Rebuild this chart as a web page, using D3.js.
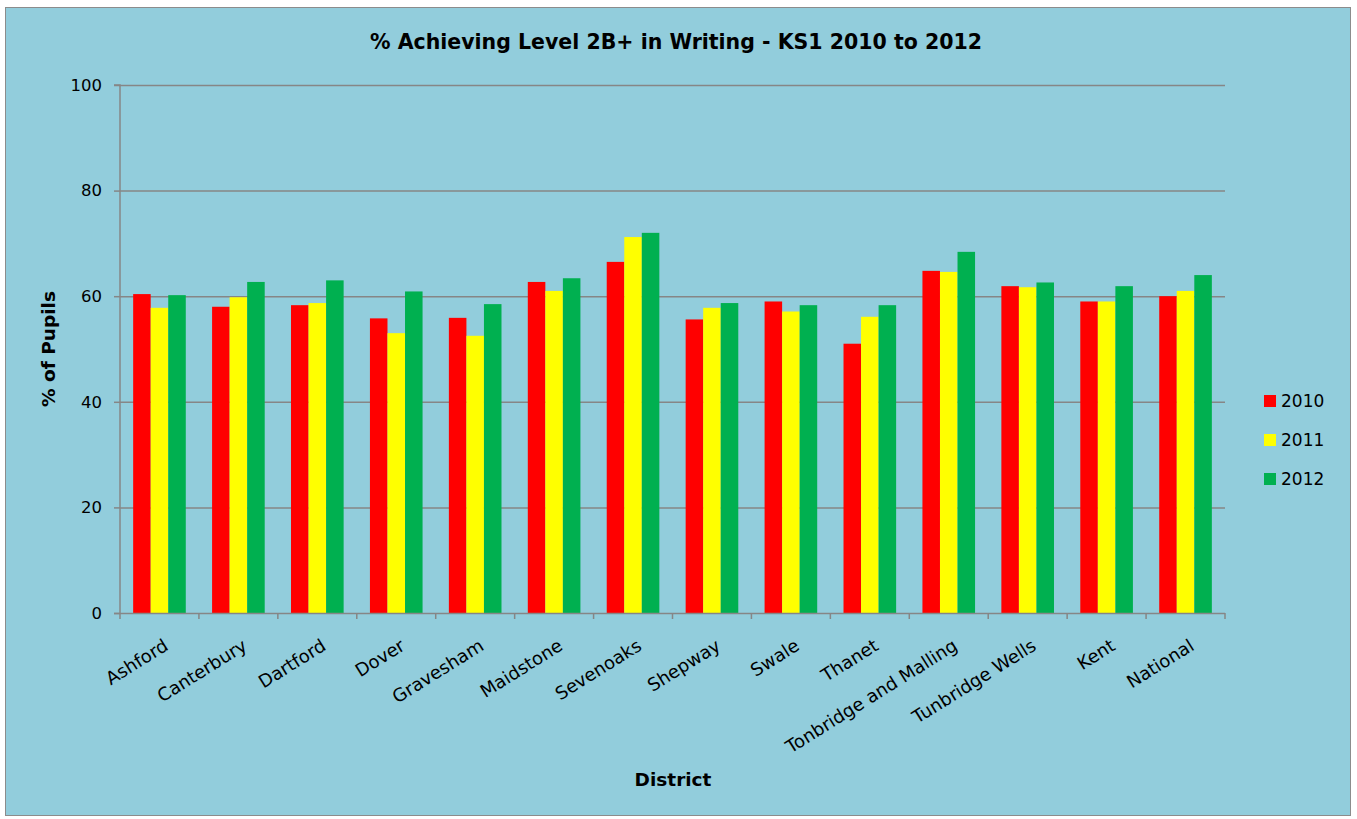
<!DOCTYPE html>
<html><head><meta charset="utf-8">
<script src="https://cdn.jsdelivr.net/npm/d3@7"></script>
<style>body{margin:0;background:#fff;} svg{display:block;}</style>
</head><body>
<script>
const categories = ["Ashford","Canterbury","Dartford","Dover","Gravesham","Maidstone","Sevenoaks","Shepway","Swale","Thanet","Tonbridge and Malling","Tunbridge Wells","Kent","National"];
const seriesNames = ["2010","2011","2012"];
const values2010 = [60.4,58.0,58.3,55.8,55.9,62.7,66.5,55.6,59.0,51.0,64.8,61.9,59.0,60.0];
const values2011 = [57.8,59.8,58.7,53.0,52.5,61.0,71.2,57.8,57.1,56.1,64.6,61.7,59.0,61.0];
const values2012 = [60.2,62.7,63.0,60.9,58.5,63.4,72.0,58.7,58.3,58.3,68.4,62.6,61.9,64.0];
const colors = ["#ff0000","#ffff00","#00b050"];
const yTicks = [0,20,40,60,80,100];
const seriesValues = [values2010, values2011, values2012];

const W = 1357, H = 819;
const font = "DejaVu Sans, Verdana, sans-serif";
const svg = d3.select("body").append("svg").attr("width", W).attr("height", H);
svg.append("rect").attr("x",5.5).attr("y",7.5).attr("width",1345).attr("height",808)
  .attr("fill","#92cddc").attr("stroke","#8c8c8c").attr("stroke-width",1);

const plot = {left:120, right:1225, top:85, bottom:613};
const x = d3.scaleBand().domain(categories).range([plot.left, plot.right]).paddingInner(0.3333).paddingOuter(0.1667);
const xs = d3.scaleBand().domain(seriesNames).range([0, x.bandwidth()]);
const y = d3.scaleLinear().domain([0,100]).range([plot.bottom, plot.top]);

// gridlines
svg.append("g").selectAll("line").data(yTicks.filter(t=>t>0)).join("line")
  .attr("x1",plot.left).attr("x2",plot.right).attr("y1",d=>y(d)+0.5).attr("y2",d=>y(d)+0.5)
  .attr("stroke","#868686").attr("stroke-width",1.5);

// bars
seriesValues.forEach((vals,si)=>{
  svg.append("g").selectAll("rect").data(vals).join("rect")
    .attr("x",(d,i)=>x(categories[i])+xs(seriesNames[si]))
    .attr("y",d=>y(d))
    .attr("width",xs.bandwidth())
    .attr("height",d=>y(0)-y(d))
    .attr("fill",colors[si]);
});

// y axis
const yAxis = d3.axisLeft(y).tickValues(yTicks).tickSize(6).tickPadding(12).tickFormat(d3.format("d"));
const gy = svg.append("g").attr("transform",`translate(${plot.left},0)`).call(yAxis);
gy.select(".domain").attr("stroke","#868686").attr("stroke-width",1.5).attr("d",`M-6,${plot.top}H0V${plot.bottom}`);
gy.selectAll(".tick line").attr("stroke","#868686").attr("stroke-width",1.5);
gy.selectAll(".tick text").attr("font-family",font).attr("font-size",16.5).attr("fill","#000");

// x axis
const boundaries = d3.range(categories.length+1).map(i=>plot.left + i*(plot.right-plot.left)/categories.length);
svg.append("line").attr("x1",plot.left-6).attr("x2",plot.right).attr("y1",plot.bottom+0.5).attr("y2",plot.bottom+0.5)
  .attr("stroke","#868686").attr("stroke-width",1.5);
svg.append("g").selectAll("line").data(boundaries).join("line")
  .attr("x1",d=>d).attr("x2",d=>d).attr("y1",plot.bottom).attr("y2",plot.bottom+6)
  .attr("stroke","#868686").attr("stroke-width",1.5);
svg.append("g").selectAll("text").data(categories).join("text")
  .attr("transform",d=>`translate(${x(d)+x.bandwidth()/2+3},${plot.bottom+25}) rotate(-32)`)
  .attr("text-anchor","end").attr("dy","0.72em").attr("font-family",font).attr("font-size",18).attr("fill","#000")
  .text(d=>d);

// title & axis labels
svg.append("text").attr("x",676).attr("y",49).attr("text-anchor","middle")
  .attr("font-family",font).attr("font-size",20.5).attr("font-weight","bold").text("% Achieving Level 2B+ in Writing - KS1 2010 to 2012");
svg.append("text").attr("x",673).attr("y",786).attr("text-anchor","middle")
  .attr("font-family",font).attr("font-size",18.5).attr("font-weight","bold").text("District");
svg.append("text").attr("transform",`translate(55,349) rotate(-90)`).attr("text-anchor","middle")
  .attr("font-family",font).attr("font-size",18.5).attr("font-weight","bold").text("% of Pupils");

// legend
const lg = svg.append("g");
seriesNames.forEach((s,i)=>{
  const yy = 401 + i*39;
  lg.append("rect").attr("x",1264).attr("y",yy-6).attr("width",12).attr("height",12).attr("fill",colors[i]);
  lg.append("text").attr("x",1281).attr("y",yy+6).attr("font-family",font).attr("font-size",17).text(s);
});
</script>
</body></html>
